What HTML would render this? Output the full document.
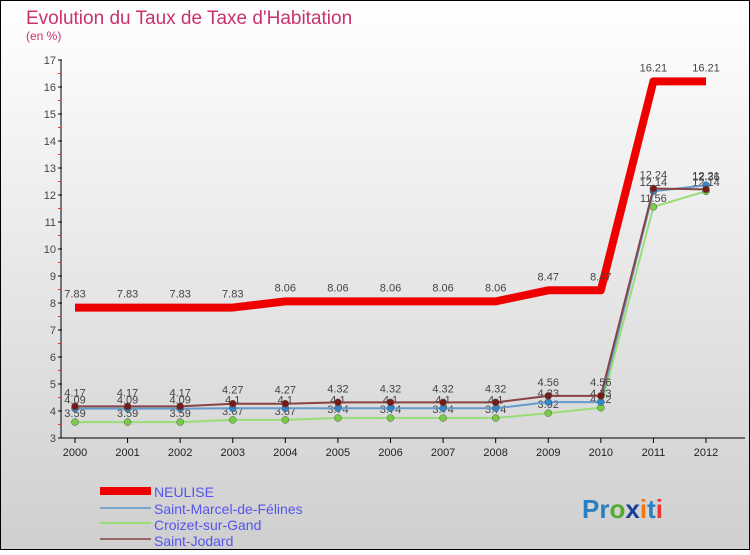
<!DOCTYPE html>
<html><head><meta charset="utf-8">
<style>
html,body{margin:0;padding:0;}
body{width:750px;height:550px;overflow:hidden;font-family:"Liberation Sans",sans-serif;}
svg text{font-family:"Liberation Sans",sans-serif;}
</style></head>
<body>
<svg id="chart" width="750" height="550" xmlns="http://www.w3.org/2000/svg">
<defs>
<linearGradient id="bg" x1="0" y1="0" x2="0" y2="1">
<stop offset="0" stop-color="#ffffff"/><stop offset="1" stop-color="#cfcfcf"/>
</linearGradient>
</defs>
<rect x="0.5" y="0.5" width="749" height="549" fill="url(#bg)" stroke="#000" stroke-width="1"/>
<text x="26" y="24" font-size="19" fill="#c8326e">Evolution du Taux de Taxe d'Habitation</text>
<text x="26" y="40" font-size="12" fill="#c8326e">(en %)</text>
<g id="axes"></g>
<g id="series"></g>
<g id="legend">
<rect x="100" y="487" width="51" height="8" fill="#ee0000"/>
<text x="154" y="497" font-size="14" fill="#5555ee">NEULISE</text>
<rect x="100" y="507" width="51" height="2" fill="#7aa6cc"/>
<text x="154" y="514" font-size="14" fill="#5555ee">Saint-Marcel-de-Félines</text>
<rect x="100" y="522" width="51" height="2" fill="#99dd77"/>
<text x="154" y="530" font-size="14" fill="#5555ee">Croizet-sur-Gand</text>
<rect x="100" y="538" width="51" height="2" fill="#996666"/>
<text x="154" y="546" font-size="14" fill="#5555ee">Saint-Jodard</text>
</g>
<g font-size="26" font-weight="bold">
<text x="582" y="518"><tspan fill="#2a7fc0">Pr</tspan><tspan fill="#55aa33">o</tspan><tspan fill="#1a3f9a">x</tspan><tspan fill="#ee7711">i</tspan><tspan fill="#2a7fc0">t</tspan><tspan fill="#ee3333">i</tspan></text>
</g>
</svg>
<script>
const years = [2000,2001,2002,2003,2004,2005,2006,2007,2008,2009,2010,2011,2012];
const neulise = [7.83,7.83,7.83,7.83,8.06,8.06,8.06,8.06,8.06,8.47,8.47,16.21,16.21];
const saintMarcel = [4.09,4.09,4.09,4.1,4.1,4.1,4.1,4.1,4.1,4.33,4.33,12.14,12.36];
const croizet = [3.59,3.59,3.59,3.67,3.67,3.74,3.74,3.74,3.74,3.92,4.12,11.56,12.14];
const saintJodard = [4.17,4.17,4.17,4.27,4.27,4.32,4.32,4.32,4.32,4.56,4.56,12.24,12.21];
const yTicks = [3,4,5,6,7,8,9,10,11,12,13,14,15,16,17];

const NS='http://www.w3.org/2000/svg';
function xS(i){return 75 + i*(706-75)/12;}
function yS(v){return 438 - (v-3)*(438-60)/14;}
function mk(tag, attrs, parent){const e=document.createElementNS(NS,tag);for(const k in attrs)e.setAttribute(k,attrs[k]);parent.appendChild(e);return e;}
const axes=document.getElementById('axes');
const ser=document.getElementById('series');

let ya=mk('line',{x1:61,y1:yS(17),x2:61,y2:yS(3),stroke:'#000'},axes);


let xa=mk('line',{x1:61,y1:yS(3),x2:745,y2:yS(3),stroke:'#000'},axes);


yTicks.forEach(v=>{
  const y=yS(v);
  mk('line',{x1:58,y1:y,x2:62,y2:y,stroke:'#000'},axes);
  if(v<17) mk('line',{x1:58,y1:yS(v+0.5),x2:61,y2:yS(v+0.5),stroke:'#ee3333'},axes);
  const t=mk('text',{x:56,y:y+4,'font-size':11,fill:'#444','text-anchor':'end'},axes);
  t.textContent=v;
  
  
});
years.forEach((yr,i)=>{
  const x=xS(i);
  mk('line',{x1:x,y1:yS(3),x2:x,y2:yS(3)+5,stroke:'#000'},axes);
  const t=mk('text',{x:x,y:yS(3)+18,'font-size':11,fill:'#222','text-anchor':'middle'},axes);
  t.textContent=yr;
  
  
});

function series(vals,color,width,name,dots,dotColor,labOff){
  const g=mk('g',{},ser);
  
  
  const pts=vals.map((v,i)=>xS(i)+','+yS(v)).join(' ');
  mk('polyline',{points:pts,fill:'none',stroke:color,'stroke-width':width,'stroke-linejoin':'round'},g);
  vals.forEach((v,i)=>{
    if(dots){
      const c=mk('circle',{cx:xS(i),cy:yS(v),r:3.5,fill:dotColor,stroke:'#555','stroke-width':0.5},g);
      
      
    }
    const t=mk('text',{x:xS(i),y:yS(v)+labOff,'font-size':11,fill:'#444','text-anchor':'middle'},g);
    t.textContent=v;
    
    
  });
}
series(croizet,'#99dd77',2,'series-croizet',true,'#77cc44',-5);
series(saintMarcel,'#6699cc',2,'series-saint-marcel',true,'#3388cc',-5);
series(saintJodard,'#884444',2,'series-saint-jodard',true,'#771a1a',-10);
series(neulise,'#ee0000',8,'series-neulise',false,'',-10);
</script>
</body></html>
